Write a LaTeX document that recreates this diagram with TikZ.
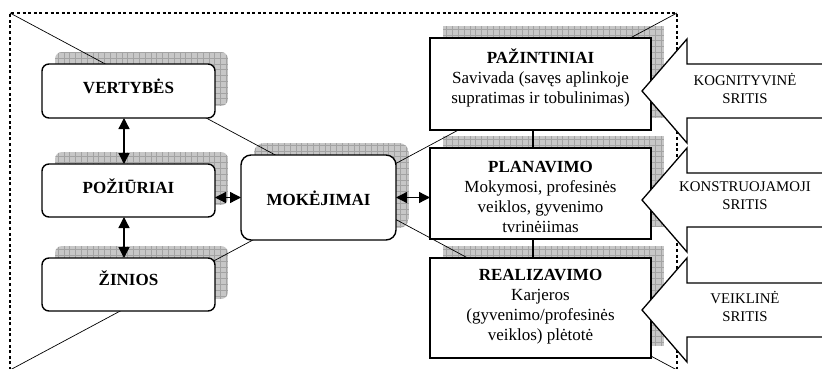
\documentclass[tikz,border=0pt]{standalone}
\usepackage{fontspec}
\setmainfont{Liberation Serif}
\usetikzlibrary{arrows.meta,calc}
\pgfdeclarelayer{shade}
\pgfdeclarelayer{guide}
\pgfsetlayers{shade,guide,main}

% gray, gridded drop shade behind a box: #1 = node name, #2 = corner style
\newcommand\gridshade[2]{%
  \begin{scope}
    \clip[#2] ($(#1.south west)+(13pt,12pt)$) rectangle ($(#1.north east)+(13pt,12pt)$);
    \fill[shadowfill] ($(#1.south west)+(13pt,12pt)$) rectangle ($(#1.north east)+(13pt,12pt)$);
    \draw[shadowgrid, step=5.8pt] ($(#1.south west)+(13pt,12pt)$) grid ($(#1.north east)+(13pt,12pt)$);
  \end{scope}}

\begin{document}
\begin{tikzpicture}[x=1pt,y=-1pt,
  roundbox/.style={draw, line width=1.4pt, rounded corners=7pt, fill=white, inner sep=0pt, outer sep=0pt},
  squarebox/.style={draw, line width=1.5pt, fill=white, inner sep=0pt, outer sep=0pt},
  boldlbl/.style={font=\fontsize{17}{20}\selectfont\bfseries, text height=12pt, text depth=0pt, inner sep=0pt},
  boxtext/.style={font=\fontsize{17}{20}\selectfont, align=center, inner sep=0pt},
  areatext/.style={font=\fontsize{14.8}{18}\selectfont, align=center, inner sep=0pt},
  biarrow/.style={line width=1.3pt, {Triangle[length=11pt,width=11pt]}-{Triangle[length=11pt,width=11pt]}},
  guideline/.style={line width=0.7pt},
  frame/.style={line width=1.2pt, dash pattern=on 3pt off 2.6pt},
  blockarrow/.style={draw, line width=1.3pt, fill=white, line join=miter},
  link/.style={line width=1.3pt},
  shadowfill/.style={fill=black!22},
  shadowgrid/.style={draw=black!36, line width=0.35pt},
]
\useasboundingbox (0,0) rectangle (822,369);
\clip (0,0) rectangle (822,369);

% left column and the central box
\node[roundbox, minimum width=173pt, minimum height=54pt] (vert) at (128.5,91) {};
\node[roundbox, minimum width=173pt, minimum height=53pt] (poz) at (128.5,190.5) {};
\node[roundbox, minimum width=173pt, minimum height=53pt] (zin) at (128.5,284.5) {};
\node[roundbox, rounded corners=10pt, minimum width=155pt, minimum height=85pt] (mok) at (318.5,197.5) {};

\node[boldlbl] (vertT) at (128.5,87) {VERTYBĖS};
\node[boldlbl] (pozT) at (128.5,187) {POŽIŪRIAI};
\node[boldlbl] (zinT) at (128.5,279) {ŽINIOS};
\node[boldlbl] (mokT) at (318.5,199) {MOKĖJIMAI};

% right column
\node[squarebox, minimum width=221pt, minimum height=92pt] (paz) at (540.5,84) {};
\node[squarebox, minimum width=221pt, minimum height=91pt] (plan) at (540.5,193.5) {};
\node[squarebox, minimum width=221pt, minimum height=100pt] (real) at (540.5,308) {};

\node[boxtext] (pazT) at (540.5,78) {\textbf{PAŽINTINIAI}\\Savivada (savęs aplinkoje\\supratimas ir tobulinimas)};
\node[boxtext] (planT) at (540.5,197) {\textbf{PLANAVIMO}\\Mokymosi, profesinės\\veiklos, gyvenimo\\tvrinėiimas};
\node[boxtext] (realT) at (540.5,307) {\textbf{REALIZAVIMO}\\Karjeros\\(gyvenimo/profesinės\\veiklos) plėtotė};

% connectors
\draw[biarrow] ([xshift=-4.5pt]vert.south) -- ([xshift=-4.5pt]poz.north);
\draw[biarrow] ([xshift=-4.5pt]poz.south) -- ([xshift=-4.5pt]zin.north);
\draw[biarrow] (mok.west -| poz.east) -- (mok.west);
\draw[biarrow] (mok.east) -- (mok.east -| plan.west);
\draw[link] ([xshift=-7.5pt]paz.south) -- ([xshift=-7.5pt]plan.north);
\draw[link] ([xshift=-7.5pt]plan.south) -- ([xshift=-7.5pt]real.north);

% block arrows pointing at the right column
\coordinate (ktip) at (642,91);
\coordinate (ctip) at (642,200);
\coordinate (vtip) at (642,310);
\foreach \t in {ktip,ctip,vtip}
  \draw[blockarrow] (\t) -- ++(45,-52) -- ++(0,25) -- ++(150,0) -- ++(0,54)
    -- ++(-150,0) -- ++(0,25) -- cycle;

\node[areatext] (kogn) at (745,88) {KOGNITYVINĖ\\SRITIS};
\node[areatext] (kons) at (745,196) {KONSTRUOJAMOJI\\SRITIS};
\node[areatext] (veik) at (745,306.5) {VEIKLINĖ\\SRITIS};

% frame and converging guide lines
\coordinate (tl) at (10,13);
\coordinate (tr) at (677,13);
\coordinate (bl) at (10,370);
\coordinate (br) at (677,370);
\coordinate (apex) at (343.5,191.5);
\begin{pgfonlayer}{guide}
  \draw[frame] (bl) -- (tl) -- (tr) -- (br);
  \draw[guideline] (tl) -- (apex) -- (tr);
  \draw[guideline] (bl) -- (apex) -- (br);
\end{pgfonlayer}

% drop shades
\begin{pgfonlayer}{shade}
  \gridshade{vert}{rounded corners=7pt}
  \gridshade{poz}{rounded corners=7pt}
  \gridshade{zin}{rounded corners=7pt}
  \gridshade{mok}{rounded corners=10pt}
  \gridshade{paz}{sharp corners}
  \gridshade{plan}{sharp corners}
  \gridshade{real}{sharp corners}
\end{pgfonlayer}
\end{tikzpicture}
\end{document}
